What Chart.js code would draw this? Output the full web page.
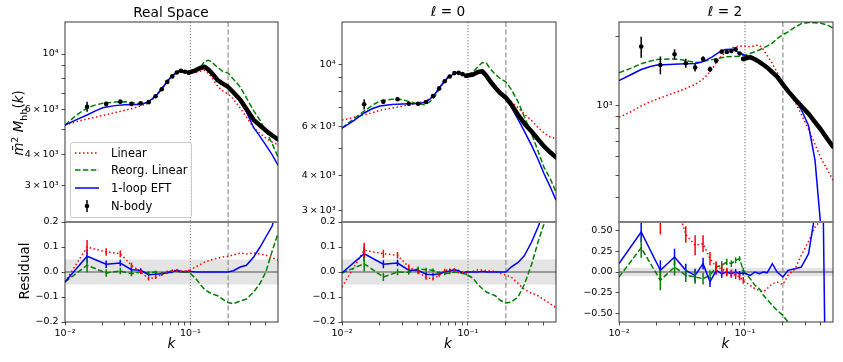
<!DOCTYPE html>
<html>
<head>
<meta charset="utf-8">
<script src="https://cdn.jsdelivr.net/npm/chart.js@4.4.1/dist/chart.umd.min.js"></script>
<style>
  body { margin:0; background:#fff; }
  #fig { position:relative; width:843px; height:362px; overflow:hidden; font-family:'DejaVu Sans',sans-serif; color:#000; }
  #fig canvas { position:absolute; left:0; top:0; }
  .t { position:absolute; transform:translate(-50%,-50%); white-space:nowrap; line-height:1; }
  .title { font-size:13.7px; }
  .axl { font-size:13.5px; }
  .rot { transform:translate(-50%,-50%) rotate(-90deg); }
  #legend { position:absolute; left:70px; top:142px; width:122px; height:76px; box-sizing:border-box; border:1px solid #cccccc; border-radius:3px; background:rgba(255,255,255,0.8); font-size:11.5px; z-index:5; }
  .lg-row { position:absolute; left:0; height:17.6px; display:flex; align-items:center; }
  .lg-row svg { margin-left:4px; }
  .lg-row span { margin-left:12px; }
</style>
</head>
<body>
<div id="fig">
  <canvas id="c-rs-main" width="843" height="362"></canvas>
  <canvas id="c-l0-main" width="843" height="362"></canvas>
  <canvas id="c-l2-main" width="843" height="362"></canvas>
  <canvas id="c-rs-res" width="843" height="362"></canvas>
  <canvas id="c-l0-res" width="843" height="362"></canvas>
  <canvas id="c-l2-res" width="843" height="362"></canvas>

  <div class="t title" style="left:171px;top:12.5px">Real Space</div>
  <div class="t title" style="left:448px;top:12px"><i>ℓ</i> = 0</div>
  <div class="t title" style="left:725px;top:12px"><i>ℓ</i> = 2</div>

  <div class="t axl rot" style="left:19px;top:123px"><i>m̄</i><sup style="font-size:9.5px">2</sup> <i>M</i><sub style="font-size:9.5px">hh</sub>(<i>k</i>)</div>
  <div class="t axl rot" style="left:25px;top:271px">Residual</div>
  <div class="t axl" style="left:171.5px;top:344px"><i>k</i></div>
  <div class="t axl" style="left:448px;top:344px"><i>k</i></div>
  <div class="t axl" style="left:725.5px;top:344px"><i>k</i></div>

  <div id="legend">
    <div class="lg-row" style="top:1px"><svg width="24" height="6"><line x1="0" y1="3" x2="24" y2="3" stroke="#ff0000" stroke-width="1.5" stroke-dasharray="1.5 2.5"/></svg><span>Linear</span></div>
    <div class="lg-row" style="top:18.6px"><svg width="24" height="6"><line x1="0" y1="3" x2="24" y2="3" stroke="#008000" stroke-width="1.5" stroke-dasharray="5.5 2.4"/></svg><span>Reorg. Linear</span></div>
    <div class="lg-row" style="top:36.2px"><svg width="24" height="6"><line x1="0" y1="3" x2="24" y2="3" stroke="#0000ff" stroke-width="1.5"/></svg><span>1-loop EFT</span></div>
    <div class="lg-row" style="top:53.8px"><svg width="24" height="16"><line x1="12" y1="2" x2="12" y2="14" stroke="#000" stroke-width="1.5"/><circle cx="12" cy="8" r="2.3" fill="#000"/></svg><span>N-body</span></div>
  </div>
</div>
<script>
/* ── halo power spectrum comparison · three panels + residuals ─────────── */

Chart.defaults.font.family = "'DejaVu Sans', sans-serif";
Chart.defaults.color = "#000";

const RED = "#ff0000", GREEN = "#008000", BLUE = "#0000ff";

// ── k grids ──────────────────────────────────────────────────────────────────
const K_MODEL = [0.01,0.0125,0.015,0.0175,0.02,0.025,0.03,0.035,0.04,0.045,0.05,0.055,0.06,0.065,0.07,
                 0.08,0.09,0.1,0.11,0.12,0.13,0.14,0.15,0.165,0.18,0.2,0.22,0.25,0.28,0.32,0.36,0.4,0.45,0.5];
const K_NBODY = [0.015,0.0213,0.0276,0.0339,0.0402,0.0465,0.0528,0.0591,0.0654,0.0717,0.078,0.0843,0.0906,0.0969];
const K_HI    = [0.0969,0.11,0.12,0.13,0.14,0.15,0.165,0.18,0.2,0.22,0.25,0.28,0.32,0.36,0.4,0.45,0.5];
const K_RES   = [0.01, ...K_NBODY, ...K_HI.slice(1)];

const X_TICKS       = [0.01,0.02,0.03,0.04,0.05,0.06,0.07,0.08,0.09,0.1,0.2,0.3,0.4];
const X_TICK_LABELS = ["10⁻²","","","","","","","","","10⁻¹","","",""];

// ── Real space ───────────────────────────────────────────────────────────────
const RS_LIN   = [5225,5400,5520,5620,5700,5850,5980,6090,6220,6350,6620,6980,7380,7750,8100,
                  8560,8500,8420,8450,8550,8620,8350,8000,7450,7150,6950,6630,6100,5620,5100,4830,4640,4470,4370];
const RS_REORG = [5225,5750,6100,6280,6370,6450,6460,6400,6360,6420,6650,6950,7350,7750,8100,
                  8560,8500,8430,8550,8850,9350,9450,9250,8850,8550,8400,7950,7400,6700,5950,5450,4950,4400,3900];
const RS_EFT   = [5225,5500,5730,5950,6120,6240,6290,6300,6300,6420,6650,6950,7350,7750,8100,
                  8560,8500,8430,8620,8800,8900,8650,8350,7880,7650,7400,6980,6450,5890,5100,4700,4350,3980,3620];
const RS_NB     = [6180,6340,6470,6340,6370,6440,6800,7250,7750,8150,8450,8570,8500,8440];
const RS_NB_ERR = [280,130,100,75,60,50,45,40,35,30,30,25,25,25];
const RS_NB_HI  = [8440,8620,8800,8900,8650,8350,7880,7650,7400,7050,6580,6050,5480,5200,4970,4750,4580];
const RS_RES_LIN   = [-0.04,0.10,0.08,0.073,0.027,0.0,-0.027,-0.022,-0.01,0.0,0.005,0.007,0.002,0.003,0.005,
                      0.02,0.03,0.04,0.045,0.05,0.055,0.06,0.063,0.068,0.076,0.072,0.076,0.072,0.067,0.057,0.047];
const RS_RES_REORG = [-0.04,0.027,-0.004,0.004,-0.007,0.0,-0.004,0.0,-0.007,0.0,0.003,0.003,0.0,0.0,0.0,
                      -0.025,-0.05,-0.07,-0.08,-0.088,-0.095,-0.108,-0.122,-0.127,-0.116,-0.108,-0.08,-0.045,0.0,0.085,0.155];
const RS_RES_EFT   = [-0.04,0.063,0.031,0.036,0.009,0.007,-0.011,-0.009,-0.007,-0.003,0.0,0.007,0.002,0.0,0.003,
                      0.0,0.0,0.0,0.0,0.0,0.0,0.0,0.0,0.005,0.02,0.027,0.06,0.1,0.14,0.185,0.27];
const RS_RES_ERR   = [0.028,0.015,0.013,0.01,0.008,0.007,0.006,0.006,0.005,0.005,0.004,0.004,0.004,0.004];

// ── ℓ = 0 ────────────────────────────────────────────────────────────────────
const L0_LIN   = [6320,6470,6600,6720,6850,6980,7080,7170,7260,7380,7550,7850,8300,8700,9000,
                  9300,9250,9100,9150,9300,9370,9050,8650,8250,7950,7700,7350,7000,6650,6300,5950,5700,5500,5420];
const L0_REORG = [5910,6400,6800,7150,7400,7500,7480,7330,7220,7170,7350,7700,8250,8700,9050,
                  9350,9250,9150,9400,9800,10150,10100,9650,9200,8900,8650,8150,7350,6500,5650,4900,4300,3900,3500];
const L0_EFT   = [5910,6300,6700,6950,7100,7190,7220,7230,7240,7300,7500,7850,8300,8700,9000,
                  9330,9250,9080,9200,9380,9450,9100,8700,8250,7900,7600,7060,6350,5770,5130,4580,4080,3650,3270];
const L0_NB     = [7200,7350,7500,7230,7230,7330,7700,8200,8700,9050,9300,9320,9220,9100];
const L0_NB_ERR = [300,140,110,80,70,60,50,45,40,35,35,30,30,30];
const L0_NB_HI  = [9100,9200,9380,9450,9100,8700,8250,7900,7600,7200,6600,6150,5750,5400,5100,4850,4650];
const L0_RES_LIN   = [-0.06,0.087,0.073,0.067,0.02,0.0,-0.023,-0.027,-0.013,0.007,0.009,0.01,0.0,0.0,-0.004,
                      0.003,0.009,0.008,0.006,0.004,0.002,-0.005,-0.013,-0.02,-0.045,-0.07,-0.085,-0.095,-0.11,-0.127,-0.142];
const L0_RES_REORG = [-0.004,0.033,-0.02,0.0,-0.001,0.013,0.009,0.007,-0.004,-0.007,-0.004,0.0,-0.002,-0.005,-0.009,
                      -0.025,-0.05,-0.067,-0.08,-0.087,-0.095,-0.113,-0.124,-0.12,-0.1,-0.05,0.03,0.12,0.19,0.3,0.4];
const L0_RES_EFT   = [-0.004,0.073,0.031,0.036,0.007,0.007,-0.009,-0.011,-0.007,0.0,0.004,0.009,0.005,-0.004,0.0,
                      0.0,0.0,0.002,0.0,0.0,0.0,0.0,0.0,0.02,0.038,0.065,0.12,0.18,0.24,0.33,0.42];
const L0_RES_ERR   = [0.03,0.016,0.013,0.01,0.009,0.008,0.007,0.006,0.006,0.005,0.005,0.004,0.004,0.004];

// ── ℓ = 2 ────────────────────────────────────────────────────────────────────
const L2_LIN   = [893,945,1000,1040,1070,1120,1160,1200,1240,1290,1360,1450,1560,1650,1710,
                  1790,1820,1820,1810,1825,1840,1760,1660,1530,1400,1255,1160,1040,920,790,680,595,530,476];
const L2_REORG = [1395,1460,1525,1565,1590,1600,1595,1570,1545,1550,1575,1590,1605,1620,1635,
                  1640,1645,1660,1690,1720,1750,1790,1820,1875,1960,2040,2100,2200,2280,2305,2300,2290,2250,2180];
const L2_EFT   = [1289,1370,1440,1480,1505,1515,1520,1525,1530,1550,1590,1635,1690,1735,1760,
                  1765,1700,1660,1630,1600,1560,1510,1470,1400,1330,1260,1160,1065,965,820,580,300,null,null];
const L2_NB     = [1811,1507,1678,1534,1468,1600,1444,1574,1722,1715,1734,1762,1690,1600];
const L2_NB_ERR = [190,135,85,70,55,45,40,35,30,28,25,22,20,20];
const L2_NB_HI  = [1600,1630,1595,1555,1510,1470,1400,1340,1240,1160,1070,1000,925,850,790,720,665];
const L2_RES_LIN   = [1.5,1.2,0.65,0.9,0.45,0.32,0.34,0.16,0.06,0.04,0.0,-0.02,-0.04,-0.06,-0.1,
                      -0.16,-0.2,-0.22,-0.24,-0.2,-0.14,-0.12,-0.15,-0.04,0.04,0.2,0.37,0.54,0.62,0.8,1.0];
const L2_RES_REORG = [-0.06,0.29,-0.1,0.06,-0.04,-0.06,-0.08,-0.04,0.06,0.08,0.12,0.1,0.14,0.16,0.02,
                      -0.08,-0.16,-0.2,-0.28,-0.33,-0.4,-0.46,-0.52,-0.6,-0.7,-0.8,-0.85,-0.85,-0.8,-0.75,-0.7];
const L2_RES_EFT   = [0.1,0.48,0.02,0.18,0.02,-0.04,0.1,-0.12,0.02,-0.02,0.0,-0.02,0.0,-0.02,-0.01,
                      -0.04,0.0,-0.02,0.0,-0.01,0.1,0.0,-0.06,0.02,0.04,0.06,0.22,0.7,3.0,-3.0,-2.5];
const L2_RES_ERR     = [0.12,0.12,0.1,0.08,0.08,0.07,0.06,0.05,0.05,0.04,0.04,0.035,0.03,0.03];
const L2_RES_ERR_LIN = [0.3,0.2,0.16,0.1,0.12,0.1,0.08,0.07,0.06,0.05,0.05,0.045,0.04,0.04];

// ── y axes ───────────────────────────────────────────────────────────────────
const Y_MAIN_TICKS  = [3000,4000,5000,6000,7000,8000,9000,10000];
const Y_MAIN_LABELS = ["3\u2009×\u200910³","4\u2009×\u200910³","","6\u2009×\u200910³","","","","10⁴"];
const Y_L2_TICKS    = [400,500,600,700,800,900,1000,2000];
const Y_L2_LABELS   = ["","","","","","","10³",""];
const Y_RES_TICKS   = [-0.2,-0.1,0,0.1,0.2];
const Y_RES_LABELS  = ["−0.2","−0.1","0.0","0.1","0.2"];
const Y_RES2_TICKS  = [-0.5,-0.25,0,0.25,0.5];
const Y_RES2_LABELS = ["−0.50","−0.25","0.00","0.25","0.50"];

// per-canvas decorations: band / reference lines
const DECOR = {
  "c-rs-main":{}, "c-l0-main":{}, "c-l2-main":{},
  "c-rs-res":{band:0.05, res:true}, "c-l0-res":{band:0.05, res:true}, "c-l2-res":{band:0.05, res:true},
};

const pts = (ks, vs) => ks.map((k,i) => ({x:k, y:vs[i]}));

const decorPlugin = {
  id:"decor",
  beforeDatasetsDraw(chart) {
    const d = DECOR[chart.canvas.id], {ctx, chartArea:a} = chart, x = chart.scales.x, y = chart.scales.y;
    ctx.save();
    ctx.beginPath(); ctx.rect(a.left, a.top, a.width, a.height); ctx.clip();
    if (d.band) {
      const y1 = y.getPixelForValue(d.band), y2 = y.getPixelForValue(-d.band);
      ctx.fillStyle = "#e4e4e4"; ctx.fillRect(a.left, y1, a.width, y2 - y1);
    }
    if (d.res) {
      const y0 = y.getPixelForValue(0);
      ctx.strokeStyle = "#808080"; ctx.lineWidth = 1.6; ctx.setLineDash([]);
      ctx.beginPath(); ctx.moveTo(a.left, y0); ctx.lineTo(a.right, y0); ctx.stroke();
    }
    // k = 0.1 dotted, k = 0.2 dashed
    ctx.strokeStyle = "#888888"; ctx.lineWidth = 1.1;
    [[0.1,[1.2,1.8]],[0.2,[5,2.6]]].forEach(([k,dash]) => {
      const px = x.getPixelForValue(k);
      ctx.setLineDash(dash);
      ctx.beginPath(); ctx.moveTo(px, a.top); ctx.lineTo(px, a.bottom); ctx.stroke();
    });
    ctx.restore();
  },
  afterDatasetsDraw(chart) {
    const d = DECOR[chart.canvas.id], {ctx, chartArea:a} = chart, x = chart.scales.x, y = chart.scales.y;
    ctx.save();
    ctx.beginPath(); ctx.rect(a.left, a.top, a.width, a.height); ctx.clip();
    ctx.setLineDash([]); ctx.lineWidth = 1.5;
    chart.data.datasets.forEach(ds => {
      if (!ds.errs) return;
      ctx.strokeStyle = ds.borderColor;
      ds.data.forEach((p,i) => {
        const e = ds.errs[i];
        if (e == null || p.y == null) return;
        const px = x.getPixelForValue(p.x);
        ctx.beginPath();
        ctx.moveTo(px, y.getPixelForValue(p.y - e));
        ctx.lineTo(px, y.getPixelForValue(p.y + e));
        ctx.stroke();
      });
    });
    ctx.restore();
    ctx.save();
    ctx.strokeStyle = "#222"; ctx.lineWidth = 0.9;
    ctx.strokeRect(a.left, a.top, a.width, a.height);
    if (d.res) {
      ctx.strokeStyle = "#808080"; ctx.lineWidth = 1.8;
      ctx.beginPath(); ctx.moveTo(a.left, a.top); ctx.lineTo(a.right, a.top); ctx.stroke();
    }
    ctx.restore();
  }
};

function mainSets(nb, nbErr, nbHi, eft, reorg, lin) {
  return [
    { data:pts(K_NBODY, nb), showLine:false, pointRadius:2.3, pointBackgroundColor:"#000", pointBorderWidth:0, borderColor:"#000", errs:nbErr },
    { data:pts(K_HI, nbHi), borderColor:"#000", borderWidth:4.5, borderCapStyle:"round", borderJoinStyle:"round" },
    { data:pts(K_MODEL, eft), borderColor:BLUE, borderWidth:1.5 },
    { data:pts(K_MODEL, reorg), borderColor:GREEN, borderWidth:1.5, borderDash:[5.5,2.4] },
    { data:pts(K_MODEL, lin), borderColor:RED, borderWidth:1.5, borderDash:[1.5,2.5] },
  ];
}

function resSets(eft, reorg, lin, err, errLin) {
  return [
    { data:pts(K_RES, eft), borderColor:BLUE, borderWidth:1.5, errs:[null, ...err] },
    { data:pts(K_RES, reorg), borderColor:GREEN, borderWidth:1.5, borderDash:[5.5,2.4], errs:[null, ...err] },
    { data:pts(K_RES, lin), borderColor:RED, borderWidth:1.5, borderDash:[1.5,2.5], errs:[null, ...(errLin || err)] },
  ];
}

function makePanel(id, box, yCfg, datasets) {
  const yW = 56, xH = box.xLabels ? 24 : 0;
  return new Chart(document.getElementById(id), {
    type:"line",
    data:{ datasets },
    options:{
      responsive:false, animation:false, devicePixelRatio:1,
      layout:{ padding:{ left:box.l - yW, top:box.t, right:843 - box.r, bottom:362 - box.b - xH } },
      plugins:{ legend:{display:false}, tooltip:{enabled:false} },
      elements:{ point:{radius:0}, line:{tension:0, fill:false} },
      scales:{
        x:{ type:"logarithmic", min:0.01, max:0.5, display:!!box.xLabels,
            afterBuildTicks:s => { s.ticks = X_TICKS.map(v => ({value:v})); },
            afterFit:s => { s.height = xH; s.paddingLeft = 0; s.paddingRight = 0; },
            ticks:{ autoSkip:false, maxRotation:0, minRotation:0, font:{size:9.5}, padding:2, color:"#000", callback:(v,i) => X_TICK_LABELS[i] },
            grid:{ drawOnChartArea:false, color:"#222", tickLength:3.5, tickWidth:0.8 },
            border:{ display:false } },
        y:{ type:yCfg.type, min:yCfg.min, max:yCfg.max,
            afterBuildTicks:s => { s.ticks = yCfg.ticks.map(v => ({value:v})); },
            afterFit:s => { s.width = yW; s.paddingTop = 0; s.paddingBottom = 0; },
            ticks:{ autoSkip:false, font:{size:9.5}, padding:3, color:"#000", callback:(v,i) => yCfg.labels[i] },
            grid:{ drawOnChartArea:false, color:"#222", tickLength:3.5, tickWidth:0.8 },
            border:{ display:false } },
      }
    },
    plugins:[decorPlugin]
  });
}

// ── layout boxes (plot areas) ────────────────────────────────────────────────
const COLS = [[65,278],[342,556],[619,833]];
const MAIN_TOP = 22, SPLIT = 222, RES_BOTTOM = 322;

makePanel("c-rs-main", {l:COLS[0][0], r:COLS[0][1], t:MAIN_TOP, b:SPLIT},
  {type:"logarithmic", min:2154, max:13400, ticks:Y_MAIN_TICKS, labels:Y_MAIN_LABELS},
  mainSets(RS_NB, RS_NB_ERR, RS_NB_HI, RS_EFT, RS_REORG, RS_LIN));
makePanel("c-l0-main", {l:COLS[1][0], r:COLS[1][1], t:MAIN_TOP, b:SPLIT},
  {type:"logarithmic", min:2733, max:14160, ticks:Y_MAIN_TICKS, labels:Y_MAIN_LABELS},
  mainSets(L0_NB, L0_NB_ERR, L0_NB_HI, L0_EFT, L0_REORG, L0_LIN));
makePanel("c-l2-main", {l:COLS[2][0], r:COLS[2][1], t:MAIN_TOP, b:SPLIT},
  {type:"logarithmic", min:313, max:2317, ticks:Y_L2_TICKS, labels:Y_L2_LABELS},
  mainSets(L2_NB, L2_NB_ERR, L2_NB_HI, L2_EFT, L2_REORG, L2_LIN));

makePanel("c-rs-res", {l:COLS[0][0], r:COLS[0][1], t:SPLIT, b:RES_BOTTOM, xLabels:true},
  {type:"linear", min:-0.2, max:0.2, ticks:Y_RES_TICKS, labels:Y_RES_LABELS},
  resSets(RS_RES_EFT, RS_RES_REORG, RS_RES_LIN, RS_RES_ERR));
makePanel("c-l0-res", {l:COLS[1][0], r:COLS[1][1], t:SPLIT, b:RES_BOTTOM, xLabels:true},
  {type:"linear", min:-0.2, max:0.2, ticks:Y_RES_TICKS, labels:Y_RES_LABELS},
  resSets(L0_RES_EFT, L0_RES_REORG, L0_RES_LIN, L0_RES_ERR));
makePanel("c-l2-res", {l:COLS[2][0], r:COLS[2][1], t:SPLIT, b:RES_BOTTOM, xLabels:true},
  {type:"linear", min:-0.6, max:0.6, ticks:Y_RES2_TICKS, labels:Y_RES2_LABELS},
  resSets(L2_RES_EFT, L2_RES_REORG, L2_RES_LIN, L2_RES_ERR, L2_RES_ERR_LIN));
</script>
</body>
</html>
